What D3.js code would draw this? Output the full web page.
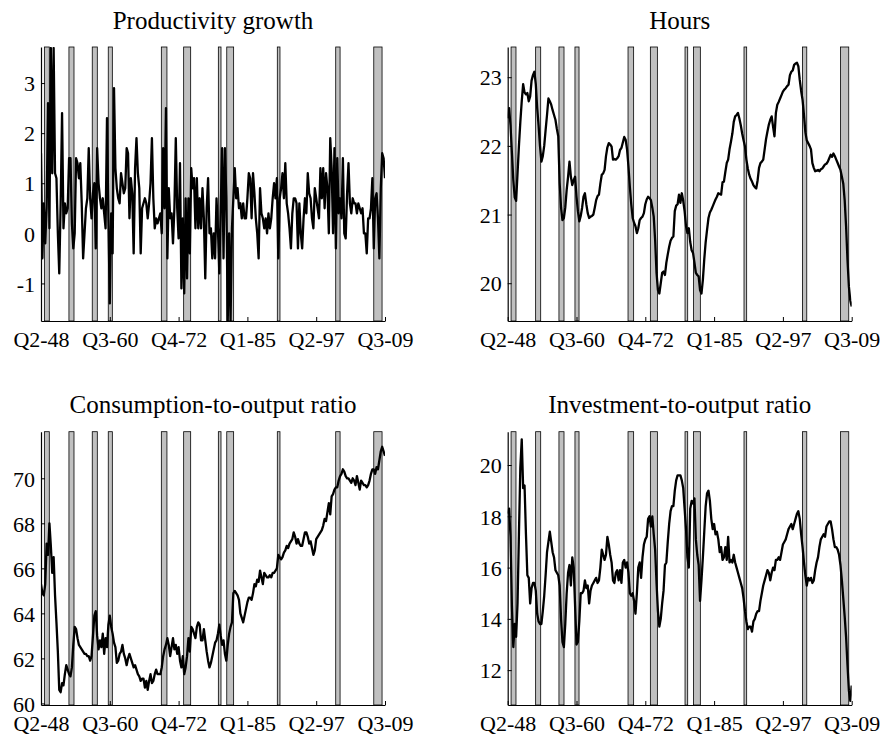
<!DOCTYPE html>
<html>
<head>
<meta charset="utf-8">
<script src="https://cdn.jsdelivr.net/npm/d3@7"></script>
<style>
body{margin:0;background:#fff}
</style>
</head>
<body>
<div class="let"></div>
<script>
// quarter index 1 = Q2-48 ... 246 = Q3-09
let tickPos=[1,50,99,148,197,246]
let tickLabels=['Q2-48','Q3-60','Q4-72','Q1-85','Q2-97','Q3-09']

// recession bars (quarter index)
let recStart=[3.4,20.9,37.5,48.9,86.7,102.6,127.3,133.3,169.3,210.9,238]
let recEnd=[6.9,24.5,41.1,51.8,90.7,107.6,129.2,138.2,171.2,214,243.9]

let titles=['Productivity growth','Hours','Consumption-to-output ratio','Investment-to-output ratio']
let yTicksProd=[-1,0,1,2,3]
let yTicksHours=[20,21,22,23]
let yTicksCons=[60,62,64,66,68,70]
let yTicksInv=[12,14,16,18,20]

let productivity=[
1.6,-0.5,0.6,-0.2,0.5,2.6,0.1,3.7,1.2,3.7,
1.2,1.1,0.0,-0.8,0.6,2.4,0.1,0.6,0.4,0.5,
1.5,1.5,0.2,-0.3,0.0,1.5,1.4,1.1,1.4,0.6,
-0.5,0.0,0.5,0.7,1.7,0.7,0.3,0.8,1.0,-0.3,
1.7,1.0,0.7,0.5,0.7,0.4,0.1,2.3,0.3,-1.4,
0.4,-0.4,2.9,1.3,0.9,0.7,0.6,1.2,1.0,0.8,
0.9,1.7,1.6,0.3,1.1,0.8,-0.4,1.3,1.9,1.2,
0.9,-0.4,0.5,0.6,0.7,0.6,0.3,0.6,1.0,1.9,
0.7,0.1,0.3,0.2,0.3,0.4,0.0,1.7,0.5,2.5,
-0.5,0.9,0.3,0.4,-0.2,0.5,1.9,0.5,-0.1,1.4,
-1.1,0.3,-1.2,0.7,-0.9,0.7,-0.4,1.3,0.9,1.1,
0.1,1.1,0.1,0.7,0.1,0.9,0.3,-0.9,0.5,1.1,
0.0,0.1,-0.5,0.0,-0.5,0.7,0.1,-0.8,0.5,1.7,
-0.5,1.7,0.7,-1.75,0.0,-1.75,0.1,0.7,1.3,0.7,
0.9,0.5,0.6,0.3,0.6,0.3,0.3,0.7,1.2,1.1,
0.3,1.2,0.8,0.3,0.0,-0.5,0.9,0.4,0.3,0.1,
0.3,0.0,0.4,0.1,0.3,0.7,1.0,0.7,1.1,-0.5,
0.7,0.9,1.2,0.7,1.4,0.6,0.4,0.1,-0.3,0.4,
0.7,0.7,0.6,-0.3,0.6,0.0,-0.3,0.3,0.7,0.4,
1.2,0.8,0.7,0.3,0.1,0.9,0.7,0.5,0.3,1.3,
0.7,1.3,0.5,1.2,0.9,0.0,1.9,1.3,0.0,1.7,
-0.3,1.5,0.4,0.7,0.3,1.5,0.0,-0.1,0.8,1.4,
0.6,0.4,0.7,0.6,0.6,0.4,0.6,0.5,0.4,0.5,
0.0,0.0,-0.4,0.3,0.3,0.5,1.1,-0.3,0.7,0.8,
0.3,-0.5,0.9,1.6,1.5,1.1]

let hours=[
22.40,22.55,22.30,21.90,21.50,21.25,21.20,21.60,22.00,22.35,
22.65,22.90,22.78,22.75,22.77,22.65,22.72,22.95,23.03,23.08,
22.90,22.55,22.30,22.00,21.77,21.85,22.00,22.23,22.45,22.69,
22.65,22.60,22.52,22.45,22.38,22.25,22.14,21.46,21.10,20.92,
20.95,21.10,21.36,21.55,21.77,21.55,21.43,21.50,21.55,21.26,
21.05,20.90,20.98,21.10,21.26,21.31,21.15,21.02,20.95,20.97,
20.98,21.00,21.10,21.21,21.27,21.29,21.45,21.58,21.60,21.65,
21.85,21.98,22.04,22.02,21.99,21.80,21.81,21.80,21.82,21.85,
21.94,21.97,22.05,22.13,22.09,21.95,21.70,21.40,21.15,20.95,
20.88,20.83,20.73,20.80,20.92,20.95,20.97,21.02,21.15,21.22,
21.26,21.24,21.21,21.10,20.97,20.63,20.15,19.90,19.85,20.00,
20.15,20.17,20.12,20.30,20.42,20.53,20.62,20.66,20.68,21.05,
21.13,21.15,21.29,21.17,21.31,21.20,21.05,20.83,20.73,20.80,
20.60,20.48,20.44,20.30,20.15,20.12,20.10,19.90,19.85,20.05,
20.35,20.60,20.78,20.95,21.03,21.07,21.12,21.17,21.22,21.26,
21.31,21.30,21.29,21.47,21.48,21.62,21.75,21.80,21.95,22.06,
22.18,22.35,22.43,22.45,22.48,22.40,22.30,22.18,22.08,21.99,
21.80,21.67,21.58,21.52,21.48,21.43,21.40,21.38,21.50,21.68,
21.75,21.77,21.80,21.95,22.10,22.21,22.31,22.38,22.43,22.28,
22.14,22.48,22.60,22.64,22.69,22.74,22.79,22.82,22.84,22.87,
22.89,23.03,23.08,23.10,23.18,23.20,23.21,23.16,22.96,22.80,
22.67,22.45,22.20,22.08,22.04,22.00,21.95,21.75,21.68,21.63,
21.64,21.65,21.63,21.66,21.67,21.70,21.73,21.74,21.77,21.82,
21.87,21.84,21.89,21.85,21.80,21.75,21.70,21.65,21.55,21.45,
21.21,20.83,20.34,19.95,19.75,19.66]

let consumption=[
65.3,64.9,64.8,65.3,67.1,66.6,68.0,67.0,65.8,66.5,
64.8,63.6,62.3,60.6,60.5,60.9,60.8,61.3,61.7,61.5,
61.3,61.2,61.6,62.6,63.4,63.3,62.9,62.6,62.5,62.4,
62.3,62.2,62.2,62.1,62.1,61.9,62.1,63.0,63.9,64.1,
63.0,62.4,62.8,62.5,63.1,62.2,62.9,62.5,63.5,63.9,
63.4,63.1,62.7,62.5,61.8,61.9,62.2,62.3,62.6,62.2,
62.0,61.7,62.0,62.2,62.0,61.8,61.6,61.7,61.5,61.3,
61.2,61.0,61.1,61.1,60.7,61.0,60.6,61.0,61.3,60.9,
61.0,61.3,61.5,61.3,61.3,61.3,61.6,62.1,62.4,62.6,
62.9,62.6,62.1,62.5,62.9,62.4,62.6,62.2,62.5,61.9,
61.6,62.1,61.3,61.6,62.1,62.9,62.3,63.4,63.3,63.1,
62.9,63.4,63.6,63.5,62.8,62.8,63.3,62.8,62.3,61.9,
61.6,61.8,62.1,62.4,62.7,62.8,63.1,63.5,63.0,62.6,
62.8,62.2,61.9,62.6,63.1,63.4,63.6,64.9,65.0,64.9,
64.8,64.6,64.0,63.8,63.6,63.9,64.2,64.5,64.7,64.7,
64.6,64.9,65.3,65.2,65.5,65.4,65.9,65.6,65.3,65.8,
65.7,65.6,65.6,65.7,65.6,65.8,65.8,65.9,66.0,66.6,
66.5,66.4,66.5,66.7,66.8,67.0,66.9,67.1,67.2,67.3,
67.6,67.4,67.1,67.3,67.1,67.0,67.0,67.3,67.6,67.6,
67.4,67.1,67.2,66.9,66.6,66.8,67.3,67.4,67.5,67.6,
67.7,67.9,68.2,68.1,68.5,68.9,68.4,69.2,69.3,69.5,
69.6,69.6,69.9,70.1,70.2,70.4,70.3,70.1,70.0,70.0,
69.9,69.8,70.0,69.9,69.7,70.1,69.8,69.5,69.9,69.8,
69.7,69.7,69.6,69.7,69.9,70.2,70.4,70.4,70.2,70.5,
70.4,70.8,71.2,71.4,71.2,71.0]

let investment=[
18.1,18.3,17.2,14.5,12.9,13.8,13.3,14.6,17.3,19.9,
21.0,19.1,19.2,17.3,15.7,15.6,14.6,15.2,15.4,15.4,
15.1,14.2,13.9,13.8,13.8,14.3,14.9,15.7,16.6,17.0,
17.4,17.0,16.6,16.4,15.9,15.8,15.7,15.3,14.0,13.1,
12.9,13.8,15.0,15.8,16.1,15.3,16.4,16.0,14.5,13.0,
13.1,13.9,15.0,15.0,15.1,15.5,15.2,15.3,14.6,15.1,
15.3,15.4,15.5,15.6,15.4,15.5,16.0,16.7,16.5,16.3,
16.5,17.2,16.9,16.5,16.2,15.5,15.4,15.8,15.9,15.5,
15.9,15.4,16.2,16.3,16.0,16.2,15.8,15.0,14.9,15.0,
14.7,14.2,15.0,16.0,16.2,15.6,16.4,16.9,17.1,17.2,
17.9,18.0,17.6,18.0,17.3,16.7,15.4,14.3,13.7,14.0,
14.6,15.1,16.1,16.2,17.0,17.7,18.2,18.4,18.4,19.0,
19.4,19.6,19.6,19.6,19.4,19.1,18.3,17.5,16.4,16.0,
18.3,18.6,18.5,18.7,17.1,16.5,16.1,14.7,15.5,16.4,
17.4,18.4,18.9,19.0,18.6,17.9,17.5,17.7,17.3,17.4,
17.1,16.6,16.8,16.3,16.4,16.8,16.3,17.2,16.2,16.3,
16.2,16.5,16.2,16.0,15.8,15.6,15.4,15.2,14.8,14.3,
13.9,13.6,13.7,13.7,13.5,13.9,14.0,14.2,14.3,14.3,
14.7,15.0,15.3,15.5,15.7,15.9,15.8,15.5,15.8,16.0,
15.9,16.3,16.3,16.4,16.3,16.6,16.9,17.0,17.1,17.3,
17.5,17.6,17.7,17.5,17.7,17.9,18.1,18.2,17.9,17.3,
16.8,16.2,15.7,15.3,15.6,15.5,15.6,15.4,15.5,15.9,
16.2,16.4,16.8,17.1,17.2,17.3,17.2,17.6,17.7,17.8,
17.8,17.5,17.1,16.8,16.8,16.7,16.5,16.1,15.5,14.8,
14.1,13.3,12.2,11.2,10.8,11.4]

let font='"Liberation Serif", "DejaVu Serif", serif'
let w=882, h=738
let svg=d3.select('.let').append('svg').attr('width',w).attr('height',h)
  .style('font-family',font)

// panel boxes: left, right, top, bottom, y-domain
let panels=[
  {data:productivity,ticks:yTicksProd,l:41,r:385,t:47,b:321,dom:[-1.75,3.72]},
  {data:hours,ticks:yTicksHours,l:507.7,r:851.7,t:47,b:321,dom:[19.45,23.44]},
  {data:consumption,ticks:yTicksCons,l:41,r:385,t:431.7,b:705,dom:[59.93,72.07]},
  {data:investment,ticks:yTicksInv,l:507.7,r:851.7,t:431.7,b:705,dom:[10.64,21.3]}
]

panels.forEach((p,k)=>{
  let xScale=d3.scaleLinear().domain([1,246]).range([p.l,p.r])
  let yScale=d3.scaleLinear().domain(p.dom).range([p.b,p.t])
  let g=svg.append('g')

  g.append('clipPath').attr('id','clip'+k).append('rect')
    .attr('x',p.l).attr('y',p.t).attr('width',p.r-p.l).attr('height',p.b-p.t)

  g.append('text').text(titles[k]).attr('x',(p.l+p.r)/2).attr('y',p.t-18.5)
    .attr('text-anchor','middle').style('font-family',font).style('font-size','25px')

  g.selectAll('.rec').data(recStart).enter().append('rect')
    .attr('x',(d)=>xScale(d)).attr('y',p.t)
    .attr('width',(d,i)=>xScale(recEnd[i])-xScale(d)).attr('height',p.b-p.t)
    .attr('fill','#c0c0c0').attr('stroke','#000').attr('stroke-width',0.8)

  let line=d3.line().x((d,i)=>xScale(i+1)).y((d)=>yScale(d))
  g.append('path').datum(p.data).attr('d',line).attr('clip-path','url(#clip'+k+')')
    .attr('fill','none').attr('stroke','#000').attr('stroke-width',2.3).attr('stroke-linejoin','round')

  let xAxis=d3.axisBottom(xScale).tickValues(tickPos).tickFormat((d,i)=>tickLabels[i])
    .tickSizeInner(-4).tickSizeOuter(0).tickPadding(10)
  let yAxis=d3.axisLeft(yScale).tickValues(p.ticks).tickFormat((d)=>String(d))
    .tickSizeInner(-4).tickSizeOuter(0).tickPadding(6)

  let gx=g.append('g').attr('transform','translate(0,'+p.b+')').call(xAxis)
  let gy=g.append('g').attr('transform','translate('+p.l+',0)').call(yAxis)
  ;[gx,gy].forEach((a)=>{
    a.attr('font-family',font).attr('font-size',22)
    a.selectAll('text').style('font-family',font).style('font-size','22px').attr('fill','#000')
    a.select('.domain').attr('stroke','#000').attr('stroke-width',1.2)
    a.selectAll('line').attr('stroke','#000')
  })
  gx.selectAll('text').attr('dy','0.71em')
  gy.selectAll('text').attr('dy','0.35em')
})
</script>
</body>
</html>
